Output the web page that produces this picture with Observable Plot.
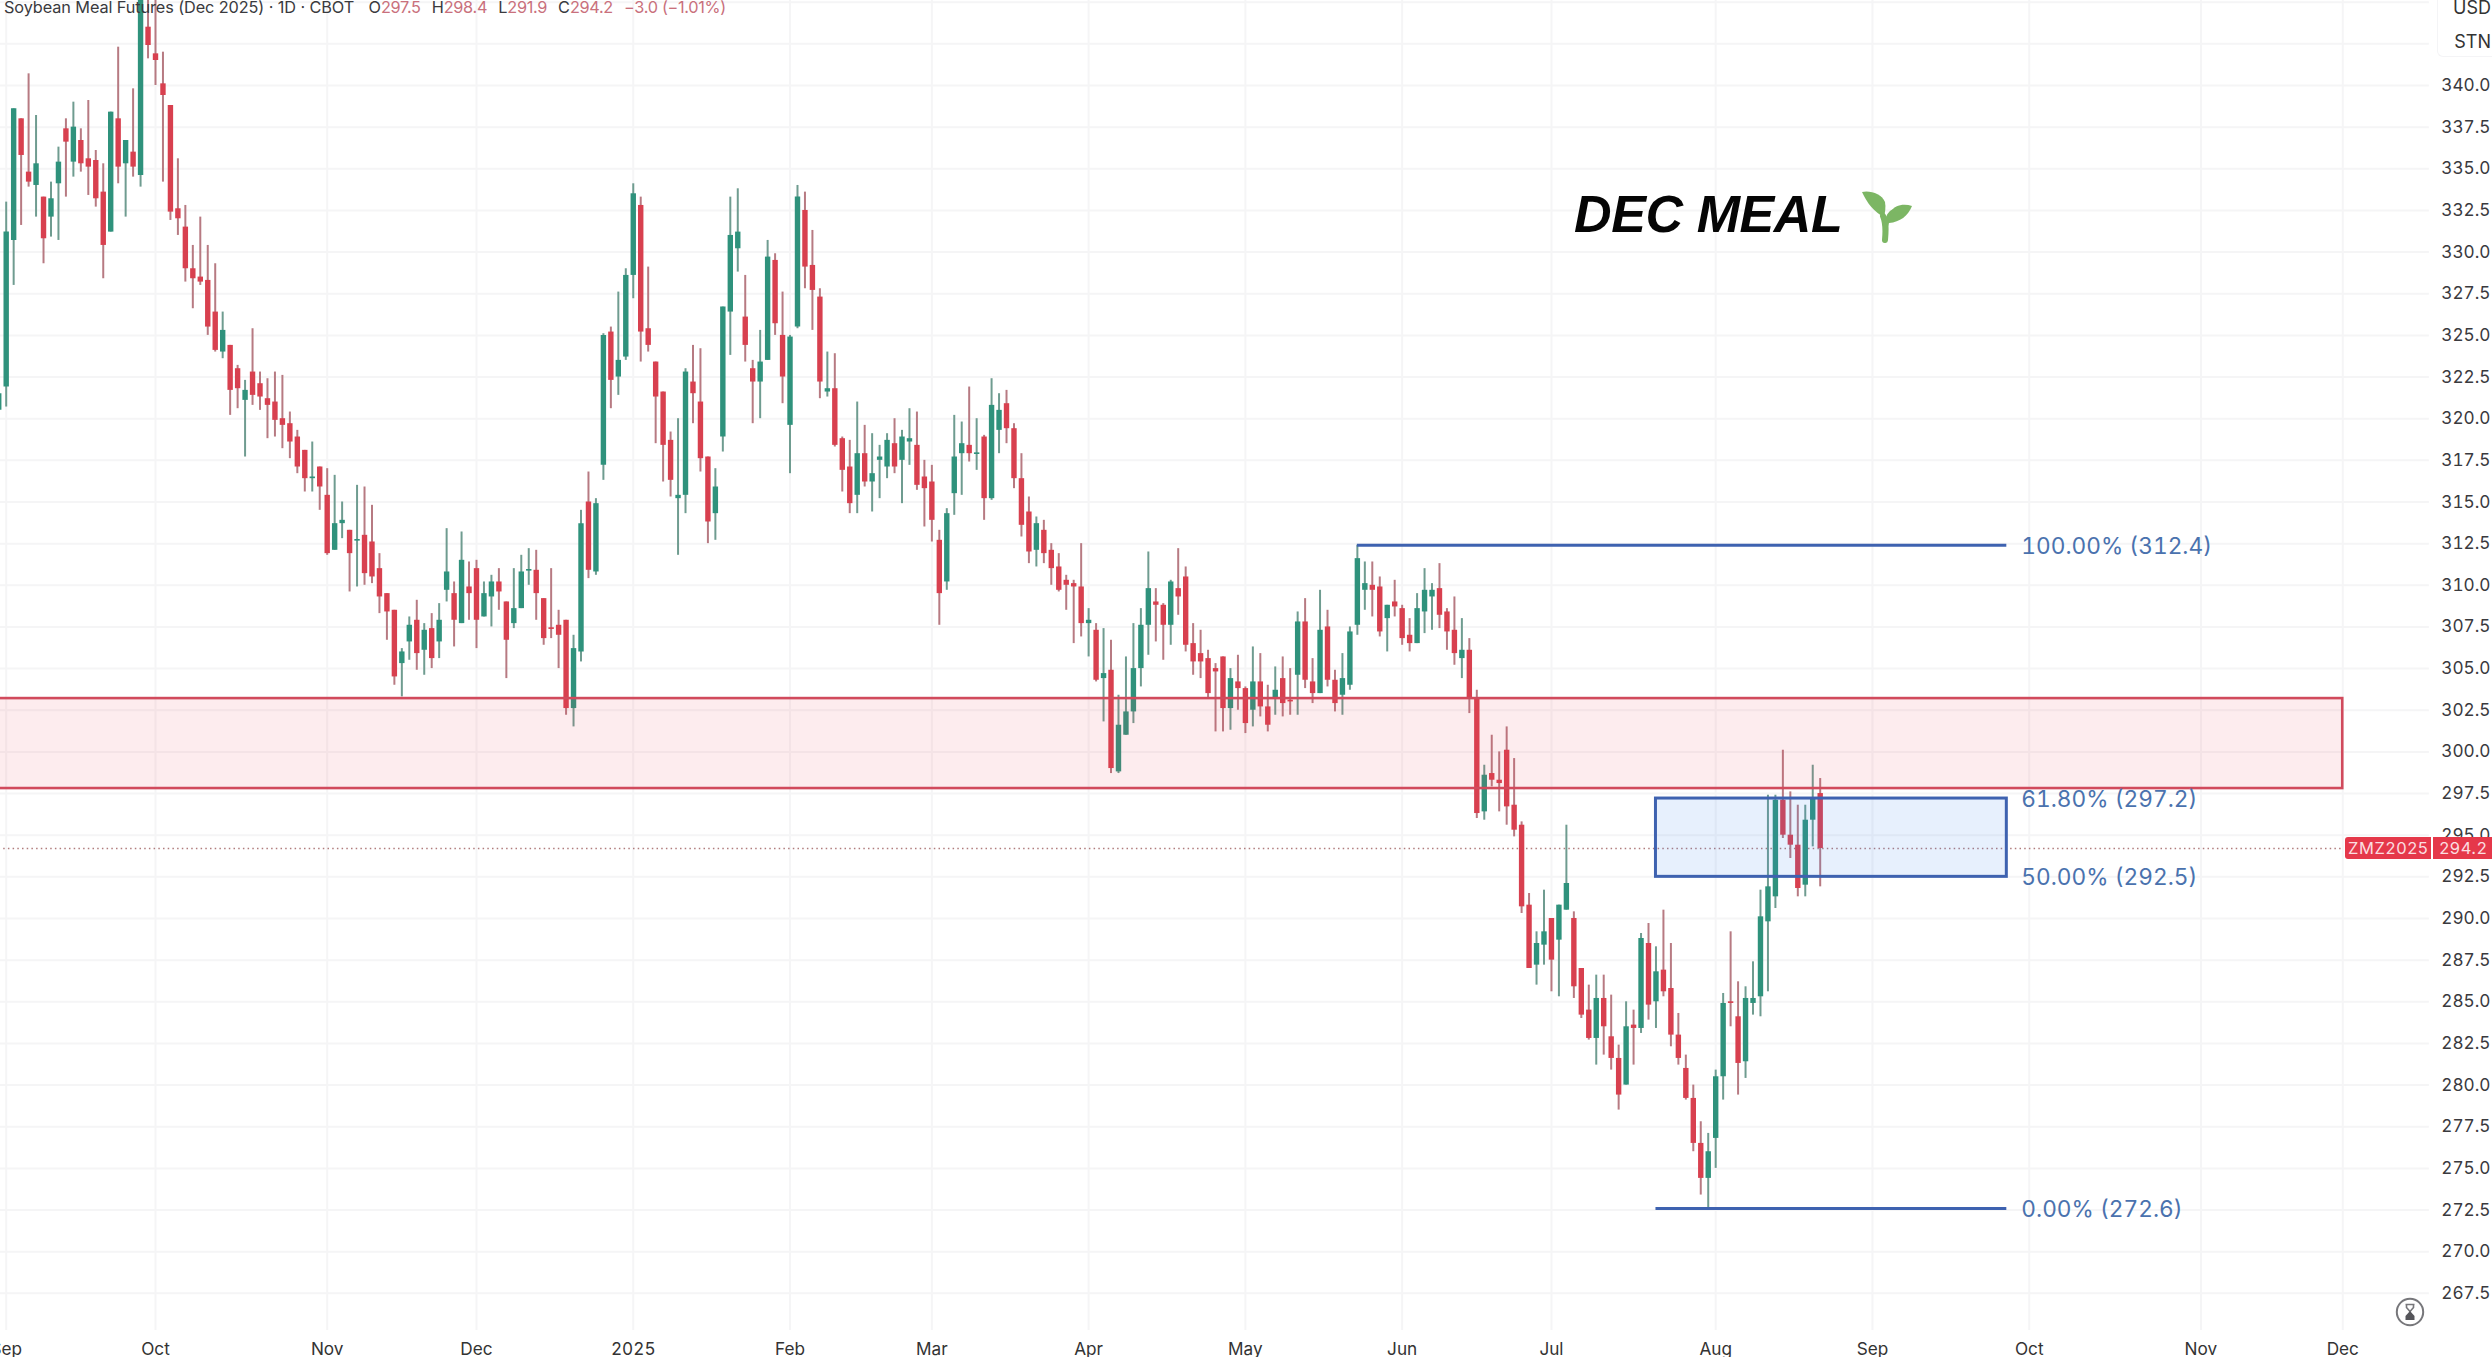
<!DOCTYPE html>
<html>
<head>
<meta charset="utf-8">
<script src="https://cdn.jsdelivr.net/npm/d3@7"></script>
<script src="https://cdn.jsdelivr.net/npm/@observablehq/plot@0.6"></script>
<style>
html,body{margin:0;padding:0;background:#fff;overflow:hidden;}
#wrap{position:relative;width:2492px;height:1357px;overflow:hidden;font-family:Inter,sans-serif;}
#wrap svg{display:block;font-variant-numeric:tabular-nums;}
.abs{position:absolute;white-space:nowrap;}
#legend{left:4px;top:-3px;font-size:16.3px;line-height:20px;color:#3a3a3e;letter-spacing:-.1px;}
#legend b{font-weight:400;color:#c9707c;letter-spacing:-.3px;}
#legend .k{margin-left:11px;}
#legend .k:first-child{margin-left:10px;}
#unit{right:0;top:0;width:54px;height:56px;background:#fff;border-left:1px solid #f4f4f6;border-bottom:1px solid #f4f4f6;border-bottom-left-radius:6px;font-size:18px;color:#333;}
#unit div{position:absolute;right:1px;}
#title{left:1574px;top:182px;font:italic 700 52px "Liberation Sans",Arial,sans-serif;line-height:64px;color:#050505;letter-spacing:-.4px;}
.tag{background:#e5384a;color:#fbdde0;font-size:16.5px;height:22px;line-height:22px;text-align:center;letter-spacing:.6px;}
</style>
</head>
<body>
<div id="wrap">
<div id="chart"></div>
<div id="legend" class="abs">Soybean Meal Futures (Dec 2025) · 1D · CBOT <span class="k">O<b>297.5</b></span><span class="k">H<b>298.4</b></span><span class="k">L<b>291.9</b></span><span class="k">C<b>294.2</b></span><span class="k"><b>−3.0 (−1.01%)</b></span></div>
<div id="unit" class="abs"><div style="top:-3px">USD</div><div style="top:31px">STN</div></div>
<div id="title" class="abs">DEC MEAL</div>
<svg class="abs" style="left:1860px;top:189px" width="54" height="54" viewBox="0 0 54 54" role="img" aria-label="seedling">
  <path d="M25 51 C26 40 26 34 23 27" fill="none" stroke="#7cb664" stroke-width="6" stroke-linecap="round"/>
  <path d="M26 36 C27 28 32 23 36 21" fill="none" stroke="#7cb664" stroke-width="5" stroke-linecap="round"/>
  <path d="M2 3 C10 1 22 5 25 13 C26 18 25 24 24 28 C14 23 7 14 2 3Z" fill="#7cb664"/>
  <path d="M52 17 C44 14 34 16 31 23 C29 28 28 31 29 34 C40 33 48 27 52 17Z" fill="#7cb664"/>
</svg>
<svg class="abs" style="left:2395px;top:1297px" width="30" height="30" viewBox="0 0 30 30" role="img" aria-label="delayed data">
  <circle cx="15" cy="15" r="13.2" fill="#fff" stroke="#77777b" stroke-width="2"/>
  <path d="M10.5 7.5H19.5M11.5 8V10.5L15 14.5L18.5 10.5V8" fill="none" stroke="#77777b" stroke-width="1.6"/>
  <path d="M15 14L19.5 19V23H10.5V19Z" fill="#55555a"/>
</svg>
<div id="tagName" class="abs tag"></div>
<div id="tagPrice" class="abs tag"></div>
</div>
<script>
// ---- Daily candles, one entry per session ----
const high = [
322.5,333,338.6,338,340.7,338.2,333.3,334.2,336.3,338,
339,337.4,339.1,336.1,335.3,338.4,342.3,336.7,339.8,348,
346.5,346,342,338.8,335.6,332.8,330.4,332.1,330.4,329.3,
326.4,324.4,323.2,322.3,325.4,322.8,322.4,322.8,322.6,320.4,
319.3,318.1,318.6,317.1,317,316.6,315,313.3,316,315.9,
314.8,311.9,309.5,308.5,306.2,308.1,309.1,307.7,308.3,308.9,
313.4,310.2,313.2,311.4,311.5,310.2,310.6,311,309,311,
311.8,312.2,312.1,309.2,311,308.5,307.9,307,314.5,316.8,
315.2,325.1,325.5,327.6,329,334.1,333.3,329.1,323.4,321.6,
319.2,320,323,324.4,324.2,317.7,317,326.7,333.3,333.8,
328.6,323.5,325.3,330.7,329.9,327.6,325,334,333.6,331.3,
327.8,324,323.9,318.9,318.7,321,319.6,319.1,318.4,319.1,
320,319.3,320.6,320.4,317.5,317.2,313.3,314.6,320.2,319.8,
321.9,320,319,322.4,321.5,321.7,319.7,317.9,315.3,314.1,
313.9,312.5,311.9,310.6,310.3,312.5,308.6,307.7,307.4,306.7,
303.4,305.7,307.7,308.6,312,309.8,308.9,310.3,312.2,311.1,
307.7,307.3,306.1,305.3,305.7,305,305.8,303.9,306.3,305.9,
304,305.1,305.7,305,308.4,309.2,305.6,309.7,308.5,304.9,
305.9,307.5,312.4,311.4,311.4,310.5,308.8,310.3,308.8,308,
309.5,311,310.1,311.3,308.6,309.3,308,306.8,303.7,299.2,
301,300,301.5,299.6,295.8,291.5,289.2,291.7,290,290.8,
295.6,290.4,287,286,286.6,286.6,285.4,282.4,285,284.5,
289.1,289.7,288.3,290.5,288.5,284.3,281.8,280,277.8,277.1,
280.9,285.5,289.2,286.2,285.9,287.4,291.7,297.4,297.4,300.1,
297.6,296.8,296.8,299.2,298.4];
const bodyTop = [
321.5,331.2,338.6,338,334.8,335.3,333.3,333.2,335.4,337.4,
337.5,336.7,335.6,335.5,333.6,338.4,338,336.7,336,347,
343.5,341.9,340.1,338.8,332.6,331.5,329,328.5,328.3,326.4,
325.3,324.4,323,321.7,322.8,322.1,321.2,321,320,319.7,
318.9,318.1,316.5,317.1,315.4,313.7,313.9,313.3,312.75,313,
312.6,311,309.5,308.5,306,307.6,307.9,307.3,307.4,307.9,
310.8,309.5,311.5,309.9,311,309.5,310.2,310.2,309,308.6,
310.8,310.95,310.9,309.2,307.45,307.6,307.9,306.2,313.7,315,
314.9,325,325.2,323.5,328.6,333.5,332.8,325.4,323.4,321.6,
318.7,315.4,322.8,322.2,321,317.7,315.9,326.7,331,331.2,
326.1,323,323.4,329.7,329.5,325,324.9,333.3,332.5,329.2,
327.3,321.8,321.8,318.8,317.1,317.9,317.9,316.7,317.7,318.7,
318.5,318.9,318.8,318.4,316.5,316.2,312.7,314.3,317.7,318.5,
318.4,317.95,318.9,320.8,320.5,320.9,319.4,316.4,314.4,313.7,
313.3,312.1,311.1,310.3,310.1,309.9,307.9,307.3,304.7,304.9,
301.6,302.4,305,307.6,309.8,309,308.8,310.2,309.8,310.5,
306.5,305.9,305.6,305,305.7,304.4,304.2,303.8,304.2,304.2,
302.7,303.7,304.4,303.1,307.8,307.8,304.2,307.3,307.5,304.3,
304.4,307.2,311.6,310.1,310,309.9,308.8,309,308.6,307,
308.6,309.7,309.7,309.8,308.4,307.3,306.1,306.1,303.2,298.6,
298.7,298.3,300.1,296.8,295.6,290.8,288.5,289.2,290,290.8,
292.1,290,287,284.5,285.2,285.2,282.9,281.6,283.5,283.6,
288.8,288.5,286.8,286.9,285.8,283,281,279.2,276.5,276,
280.5,284.9,285,284.1,285.2,285.2,290.1,291.9,297.1,297.1,
295,294.4,295.9,297.2,297.5];
const bodyBottom = [
320.5,321.9,330.7,335.8,334.2,334,330.8,332.1,334.1,336.6,
335.4,335.3,335.1,333.2,330.4,331.2,335.1,335.3,335.1,334.6,
342.4,341.5,339.4,332.4,332,329,328.4,328.2,325.5,324.1,
324,321.7,321.8,321.1,321.4,321.3,320.8,319.9,319.6,318.6,
317.1,316.4,316.4,315.9,311.9,312.1,313.7,311.9,312.65,310.7,
310.5,309.3,308.4,304.5,305.3,306.6,305.9,306.1,305.6,306.6,
309.7,307.9,307.7,309.5,307.9,308.1,309.3,309.6,306.7,307.7,
308.6,310.85,309.5,306.8,307.35,307,302.6,302.6,306,310.9,
310.8,317.2,322.3,322.5,323.7,328.6,325.2,324.4,321.3,318.4,
316.3,315.2,315.4,321.5,317.6,313.8,314.3,318.9,326.4,330.2,
324.4,322.2,322.2,323.5,325.7,322.5,319.6,325.5,329.1,327.7,
322.2,321.6,318.4,316.9,314.9,315.4,316.2,316.2,317.5,317.1,
317.1,317.5,318.6,316,315.8,313.9,309.5,310.2,315.5,317.9,
317.9,317.85,315.2,315.2,319.3,319.4,316.4,313.6,312,312.1,
311.9,311,309.7,310,309.9,307.7,307.7,304.3,304.4,299,
298.8,301,302.4,305,307.6,308.8,307.6,307.6,309.3,306.4,
305.4,305.4,303.5,304.8,302.6,302.6,303.8,301.7,302.5,302.7,
301.6,303.2,302.9,303,304.6,304.3,303.5,303.5,304.3,302.9,
303.4,304,307.6,309.7,309.7,307.2,308,308.7,306.8,306.5,
306.5,308.4,309.3,308.2,307.2,305.9,305.6,303.2,296.3,296.4,
298.3,298.1,296.7,295.3,290.7,287,287.2,288.4,287.5,288.7,
290.5,285.9,284.2,282.8,282.8,283.5,281.6,279.4,280,283.4,
283.4,284.8,285,285.6,283,281.6,279.2,276.5,274.4,274.4,
276.8,280.5,284.9,281.3,281.4,284.9,285.3,289.8,291.3,295,
294.4,291.8,292,295.9,294.2];
const low = [
319.7,320.7,328,331.6,333.9,332.1,329.3,330.9,330.7,333.3,
334.5,334.8,333.4,332.7,328.4,331.2,334.1,332.1,334.5,333.9,
341.6,340,334.2,331.9,331,328.2,326.6,328,325,324,
323.6,320.2,320.6,317.7,320.8,320.5,318.8,318.9,318.2,317.6,
316.7,315.6,315.6,314.5,311.8,312.1,312.8,309.6,309.9,310,
310.1,308.3,306.7,304,303.3,305.5,304.9,304.6,305,305.6,
309,306.3,307.7,307.9,306.2,308.1,307.5,308.5,304.4,307.4,
308.6,310,307.9,306.4,306.8,305,302.2,301.5,305.4,310.4,
310.6,316.3,320.6,321.4,323.5,327.2,323.4,324,318.5,316.2,
315.3,311.8,314.3,319.7,316.8,312.5,312.7,318,323.8,328.8,
323.4,319.7,320,323.5,325,320.9,316.7,325.4,327.8,325.3,
321.2,321.3,318.3,315.6,314.3,314.3,315.9,314.4,315.2,316.4,
316.7,314.9,317.2,315.7,313.5,312.6,307.6,309.7,314.2,315.4,
317.4,316.9,313.9,315.1,317.9,318.5,315.8,312.9,311.3,311.1,
311.3,310,309.6,308.5,306.5,306.9,305.7,304.2,301.8,298.7,
298.7,301,301.7,303.9,305.8,306.6,305.5,306.4,308.2,306,
304.6,304.4,303.2,301.2,301.2,301.3,302.5,301.1,301.5,302.1,
301.2,302.2,302.1,302.2,302.2,303.8,302.9,303.5,303.9,302.4,
302.2,303.7,307,308.5,308.1,306.9,306,308.1,306.4,306,
306.5,307.1,307.3,307.4,306.1,305.2,304.4,302.3,296,295.9,
297.9,296.4,295.6,294.9,290.3,287,286,287.2,285.6,285.3,
290.5,285.2,284,282.7,281.2,281.8,280.9,278.5,280,281.2,
283.1,283.9,283.4,285.3,282.3,281.2,279.1,276,273.4,272.6,
275,279.1,283.5,279.4,280.4,284.2,284.1,285.6,290.6,294.8,
293.6,291.3,291.3,294.3,291.9];
// u = close above open (green), d = close below open (red), ten sessions per group
const direction = (
"uuudduduud uddddududu dddddddddd uddudddddd ddudduudud dddduududu ududduuddu " +
"uuddddduud uuduuudddd duuddduuuu dduudduudd duddduduuu duudddduuu duduuddddu " +
"ddddddudud uuuuuddudd ddddduddud duddudd_udd uuuuddudDd uuudddudd_u ddddddUUdu " +
"udddudddud ududdddddu uudduuuuud dduud"
).toLowerCase().replace(/[\s_]/g, "").split("");

// Month labels on the session axis (session number of each month's first bar)
const monthLabels = ["Sep","Oct","Nov","Dec","2025","Feb","Mar","Apr","May","Jun","Jul","Aug","Sep","Oct","Nov","Dec"];
const monthSessions = [1,21,44,64,85,106,125,146,167,188,208,230,251,272,295,314];

// Price axis
const priceTicks = [267.5,270,272.5,275,277.5,280,282.5,285,287.5,290,292.5,295,297.5,300,302.5,305,307.5,310,312.5,315,317.5,320,322.5,325,327.5,330,332.5,335,337.5,340];
const gridPrices = priceTicks.concat([342.5, 345]);

// Annotations
const zone = [{x1: -5, x2: 314, y1: 297.8, y2: 303.2}];
const fibBox = [{x1: 222, x2: 269, y1: 292.5, y2: 297.2}];
const fibLines = [{price: 312.4, x1: 182, x2: 269}, {price: 272.6, x1: 222, x2: 269}];
const fibPrices = [312.4, 297.2, 292.5, 272.6];
const fibLabels = ["100.00% (312.4)", "61.80% (297.2)", "50.00% (292.5)", "0.00% (272.6)"];
const lastPrice = 294.2;

const bars = high.map((h, i) => ({i, h, t: bodyTop[i], b: bodyBottom[i], l: low[i], d: direction[i]}));
const rising = bars.filter(d => d.d === "u");
const falling = bars.filter(d => d.d === "d");

const UP = "#2f927c", DOWN = "#d8404f", UPW = "#6f9c90", DOWNW = "#b77a82";
const GRID = "#f5f5f6";
const BLUE = "#3e62b0";

const chart = Plot.plot({
  width: 2492, height: 1357,
  marginTop: 0, marginBottom: 27, marginLeft: 0, marginRight: 0,
  style: {background: "#fff", fontFamily: "Inter, sans-serif"},
  x: {type: "linear", domain: [0.237, 334.06], axis: null},
  y: {type: "linear", domain: [265.27, 345.102], axis: null},
  marks: [
    Plot.ruleY(gridPrices, {x1: -5, x2: 325.6, stroke: GRID, strokeWidth: 2}),
    Plot.ruleX(monthSessions, {stroke: GRID, strokeWidth: 2}),
    Plot.ruleY([lastPrice], {x1: -5, x2: 314, stroke: "#b07c7c", strokeWidth: 1.4, strokeDasharray: "1.5,3.2"}),
    // wicks
    Plot.ruleX(rising, {x: "i", y1: "l", y2: "h", stroke: UPW, strokeWidth: 2}),
    Plot.ruleX(falling, {x: "i", y1: "l", y2: "h", stroke: DOWNW, strokeWidth: 2}),
    // bodies
    Plot.ruleX(rising, {x: "i", y1: "b", y2: "t", stroke: UP, strokeWidth: 5.4}),
    Plot.ruleX(falling, {x: "i", y1: "b", y2: "t", stroke: DOWN, strokeWidth: 5.4}),
    // supply zone
    Plot.rect(zone, {x1: "x1", x2: "x2", y1: "y1", y2: "y2", fill: "#ee4455", fillOpacity: 0.1, stroke: "#d14a5c", strokeWidth: 2.6}),
    // Fibonacci
    Plot.rect(fibBox, {x1: "x1", x2: "x2", y1: "y1", y2: "y2", fill: "#3d85f0", fillOpacity: 0.12, stroke: BLUE, strokeWidth: 3}),
    Plot.ruleY(fibLines, {y: "price", x1: "x1", x2: "x2", stroke: BLUE, strokeWidth: 3}),
    Plot.text(fibPrices, {x: 269, y: d => d, text: (d, i) => fibLabels[i], textAnchor: "start", dx: 14.5, dy: 1, fontSize: 22.7, fill: "#4a72ae"}),
    // axis labels
    Plot.text(priceTicks, {y: d => d, frameAnchor: "right", dx: -2, text: d => d.toFixed(1), fontSize: 17.2, fill: "#3a3a3e", textAnchor: "end"}),
    Plot.text(monthSessions, {x: d => d, frameAnchor: "bottom", lineAnchor: "middle", dy: 19, text: (d, i) => monthLabels[i], fontSize: 17.2, fill: "#333", fontWeight: (d, i) => monthLabels[i] === "2025" ? 700 : 400})
  ]
});
document.getElementById("chart").appendChild(chart);

// last-price tag sits on the price scale
const yLast = chart.scale("y").apply(lastPrice);
const xScale = chart.scale("x");
const name = document.getElementById("tagName");
const price = document.getElementById("tagPrice");
name.textContent = "ZMZ2025";
price.textContent = lastPrice.toFixed(1);
const xDec = xScale.apply(314);
name.style.cssText = `left:${xDec + 3}px;top:${yLast - 11}px;width:86px;border-radius:3px 0 0 3px;`;
price.style.cssText = `left:${xDec + 91}px;top:${yLast - 11}px;width:60px;`;
</script>
</body>
</html>
